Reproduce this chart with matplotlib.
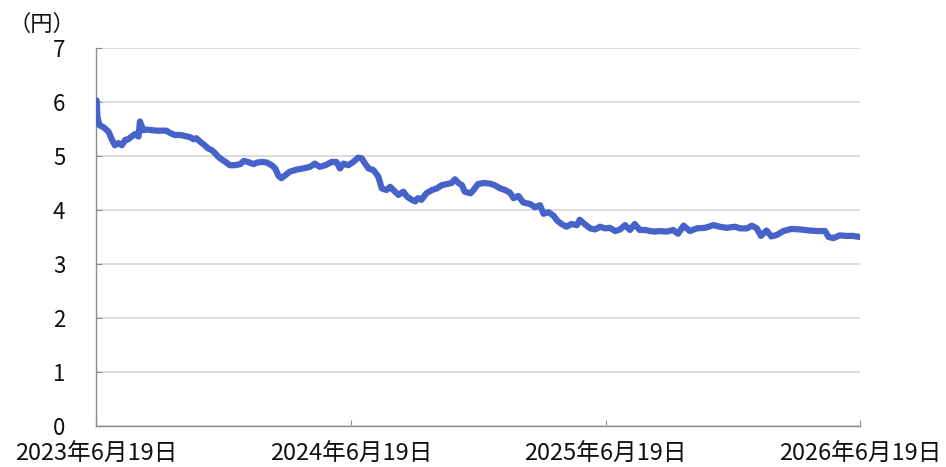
import matplotlib
matplotlib.use("Agg")
import matplotlib.pyplot as plt
import pandas as pd

plt.rcParams['font.family'] = ['Noto Sans CJK JP', 'DejaVu Sans']

START = "2023-06-19"
# days since 2023-06-19 and price (円)
days = [0, 1, 2, 5, 10, 13, 18, 23, 27, 32, 37, 42, 46, 51, 56, 61, 63, 66, 68, 73,
        80, 87, 94, 101, 106, 113, 121, 128, 135, 140, 144, 149, 154, 161, 166, 171,
        175, 180, 187, 192, 199, 207, 212, 218, 226, 231, 238, 245, 252, 257, 262,
        266, 274, 278, 288, 297, 307, 314, 321, 329, 338, 345, 350, 355, 362, 369,
        376, 381, 386, 391, 398, 405, 410, 417, 422, 429, 434, 441, 446, 453, 458,
        462, 467, 474, 482, 489, 496, 503, 510, 515, 520, 525, 529, 537, 541, 548,
        556, 565, 572, 580, 587, 594, 599, 606, 613, 623, 630, 637, 642, 649, 656,
        662, 668, 675, 682, 690, 694, 701, 709, 716, 723, 730, 737, 745, 752, 759,
        766, 773, 780, 788, 795, 802, 809, 819, 828, 835, 843, 852, 862, 874, 886,
        895, 905, 917, 924, 934, 941, 948, 954, 962, 969, 977, 986, 998, 1010, 1024,
        1036, 1046, 1051, 1058, 1067, 1077, 1086, 1096]
prices = [6.00, 6.03, 5.73, 5.57, 5.54, 5.51, 5.45, 5.30, 5.20, 5.24, 5.20, 5.30, 5.31,
          5.36, 5.41, 5.36, 5.64, 5.54, 5.48, 5.49, 5.48, 5.47, 5.47, 5.47, 5.43, 5.39,
          5.39, 5.37, 5.35, 5.31, 5.33, 5.27, 5.22, 5.14, 5.11, 5.05, 4.99, 4.94, 4.88,
          4.83, 4.83, 4.85, 4.91, 4.89, 4.85, 4.88, 4.89, 4.88, 4.83, 4.77, 4.63, 4.59,
          4.67, 4.71, 4.75, 4.77, 4.80, 4.86, 4.80, 4.83, 4.89, 4.89, 4.77, 4.86, 4.83,
          4.89, 4.97, 4.96, 4.86, 4.77, 4.74, 4.62, 4.40, 4.37, 4.43, 4.34, 4.28, 4.34,
          4.25, 4.19, 4.16, 4.22, 4.19, 4.31, 4.37, 4.40, 4.46, 4.48, 4.50, 4.57, 4.50,
          4.46, 4.34, 4.31, 4.36, 4.48, 4.50, 4.49, 4.46, 4.40, 4.37, 4.32, 4.22, 4.26,
          4.14, 4.11, 4.05, 4.09, 3.93, 3.96, 3.90, 3.80, 3.74, 3.69, 3.74, 3.72, 3.82,
          3.74, 3.66, 3.64, 3.69, 3.66, 3.67, 3.61, 3.64, 3.72, 3.63, 3.74, 3.63, 3.63,
          3.61, 3.60, 3.61, 3.60, 3.63, 3.56, 3.71, 3.61, 3.66, 3.67, 3.72, 3.69, 3.67,
          3.69, 3.66, 3.66, 3.71, 3.66, 3.52, 3.62, 3.51, 3.54, 3.61, 3.65, 3.64, 3.62,
          3.61, 3.61, 3.50, 3.48, 3.53, 3.52, 3.52, 3.50]

tick_dates = ["2023-06-19", "2024-06-19", "2025-06-19", "2026-06-19"]
tick_labels = ["2023年6月19日", "2024年6月19日", "2025年6月19日", "2026年6月19日"]
y_ticks = [0, 1, 2, 3, 4, 5, 6, 7]

dates = pd.to_datetime(START) + pd.to_timedelta(days, unit="D")
tdates = pd.to_datetime(tick_dates)

fig = plt.figure(figsize=(9.46, 4.67), dpi=100)
ax = fig.add_axes([0.1015, 0.088, 0.8075, 0.809])

ax.plot(dates, prices, color="#4763c9", lw=4.5, solid_capstyle="round",
        solid_joinstyle="round", zorder=3)

ax.set_xlim(tdates[0], tdates[-1])
ax.set_ylim(0, 7)
ax.set_xticks(tdates)
ax.set_xticklabels(tick_labels)
ax.set_yticks(y_ticks)

ax.grid(axis="y", color="#d9d9d9", lw=1.3)
ax.set_axisbelow(True)
for s in ["top", "right"]:
    ax.spines[s].set_visible(False)
for s in ["left", "bottom"]:
    ax.spines[s].set_color("#8c8c8c")
    ax.spines[s].set_linewidth(1.0)

ax.tick_params(axis="x", direction="in", length=4.5, color="#8c8c8c",
               labelsize=17, pad=12, labelcolor="#111111")
ax.tick_params(axis="y", direction="in", length=4, color="#8c8c8c",
               labelsize=16, pad=22, labelcolor="#111111")

fig.text(42 / 946, 1 - 24 / 467, "（円）", fontsize=16, ha="center", va="center",
         color="#111111")

fig.savefig("out.png", dpi=100)
